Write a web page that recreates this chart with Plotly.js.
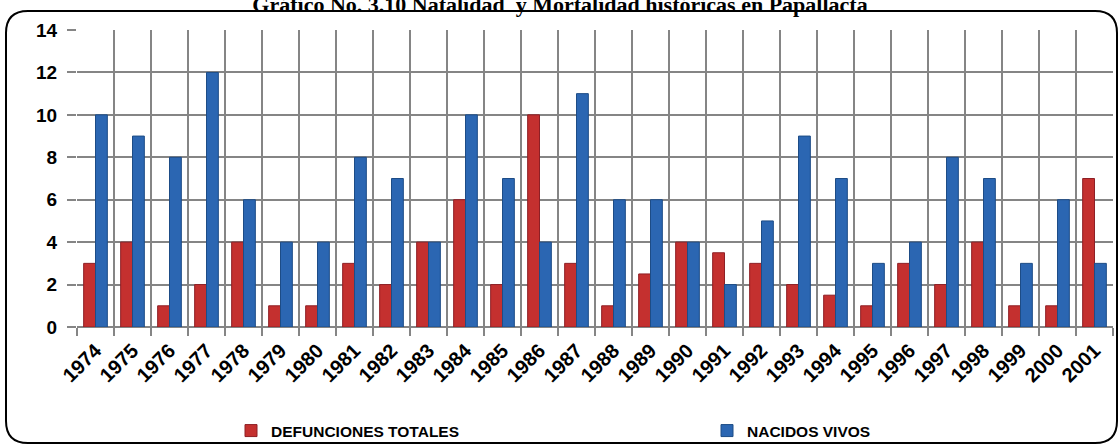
<!DOCTYPE html>
<html>
<head>
<meta charset="utf-8">
<script src="https://cdn.plot.ly/plotly-3.0.1.min.js"></script>
<style>html,body{margin:0;padding:0;background:#fff;}#chart{width:1120px;height:445px;}</style>
</head>
<body>
<div id="chart"></div>
<script>
const years = ["1974","1975","1976","1977","1978","1979","1980","1981","1982","1983","1984","1985","1986","1987","1988","1989","1990","1991","1992","1993","1994","1995","1996","1997","1998","1999","2000","2001"];
const defunciones = [3,4,1,2,4,1,1,3,2,4,6,2,10,3,1,2.5,4,3.5,3,2,1.5,1,3,2,4,1,1,7];
const nacidos = [10,9,8,12,6,4,4,8,7,4,10,7,4,11,6,6,4,2,5,9,7,3,4,8,7,3,6,3];
const yTicks = [0,2,4,6,8,10,12,14];

// plot area in pixels
const L = 77, R = 7, T = 30, B = 118, W = 1120, H = 445;
const pw = W - L - R, ph = H - T - B;
const px = v => (v - L) / pw;
const py = v => (H - B - v) / ph;
// rounded frame
const x0 = 6, x1 = 1117, y0 = 11, y1 = 443, r = 22;
const framePath = [
  `M${px(x0)},${py(y0 + r)}`,
  `Q${px(x0)},${py(y0)} ${px(x0 + r)},${py(y0)}`,
  `L${px(x1 - r)},${py(y0)}`,
  `Q${px(x1)},${py(y0)} ${px(x1)},${py(y0 + r)}`,
  `L${px(x1)},${py(y1 - r)}`,
  `Q${px(x1)},${py(y1)} ${px(x1 - r)},${py(y1)}`,
  `L${px(x0 + r)},${py(y1)}`,
  `Q${px(x0)},${py(y1)} ${px(x0)},${py(y1 - r)}`,
  'Z'
].join(' ');

const legFont = {family:'Liberation Sans, Arial, sans-serif', size:15.5, color:'#000', weight:'bold'};

const traces = [
  {type:'bar', name:'DEFUNCIONES TOTALES', x:years, y:defunciones, legend:'legend',
   marker:{color:'#C4302F', line:{color:'#8E1F25', width:1}}},
  {type:'bar', name:'NACIDOS VIVOS', x:years, y:nacidos, legend:'legend2',
   marker:{color:'#2B66B2', line:{color:'#1D4C86', width:1}}}
];

const layout = {
  width: W, height: H,
  margin: {l:L, r:R, t:T, b:B, pad:0},
  paper_bgcolor:'#fff', plot_bgcolor:'#fff',
  barmode:'group', bargap:0.36, bargroupgap:0,
  title:{text:'Gráfico No. 3.10 Natalidad  y Mortalidad históricas en Papallacta',
    font:{family:'Liberation Serif, DejaVu Serif, serif', size:22, color:'#000', weight:'bold'},
    x:0.5, xref:'container', y:1 - 12/445, yref:'container', yanchor:'bottom'},
  xaxis:{type:'category', tickson:'boundaries', showgrid:true, gridcolor:'#858585', gridwidth:2,
    ticks:'outside', ticklen:8, tickcolor:'#858585', tickwidth:2, tickangle:-45,
    tickfont:{family:'Liberation Sans, Arial, sans-serif', size:20, color:'#000', weight:'bold'},
    ticklabelstandoff:7, showline:false, zeroline:false, fixedrange:true, automargin:false},
  yaxis:{range:[0,14], tickvals:yTicks, ticktext:yTicks.map(String), showgrid:true,
    gridcolor:'#858585', gridwidth:2, ticks:'outside', ticklen:9, tickcolor:'#858585', tickwidth:2,
    tickfont:{family:'Liberation Sans, Arial, sans-serif', size:19, color:'#000', weight:'bold'},
    zeroline:true, zerolinecolor:'#858585', zerolinewidth:2.5, showline:false, ticklabelstandoff:6,
    automargin:false},
  showlegend:true,
  legend:{orientation:'h', xref:'container', yref:'container', x:231/W, xanchor:'left',
    y:1 - 431/H, yanchor:'middle', itemwidth:30, font:legFont, bgcolor:'rgba(0,0,0,0)'},
  legend2:{orientation:'h', xref:'container', yref:'container', x:707/W, xanchor:'left',
    y:1 - 431/H, yanchor:'middle', itemwidth:30, font:legFont, bgcolor:'rgba(0,0,0,0)'},
  shapes:[{type:'path', xref:'paper', yref:'paper', path:framePath,
    line:{color:'#000', width:2}, fillcolor:'rgba(0,0,0,0)', layer:'above'}]
};

Plotly.newPlot('chart', traces, layout, {staticPlot:true, displayModeBar:false});
</script>
</body>
</html>
